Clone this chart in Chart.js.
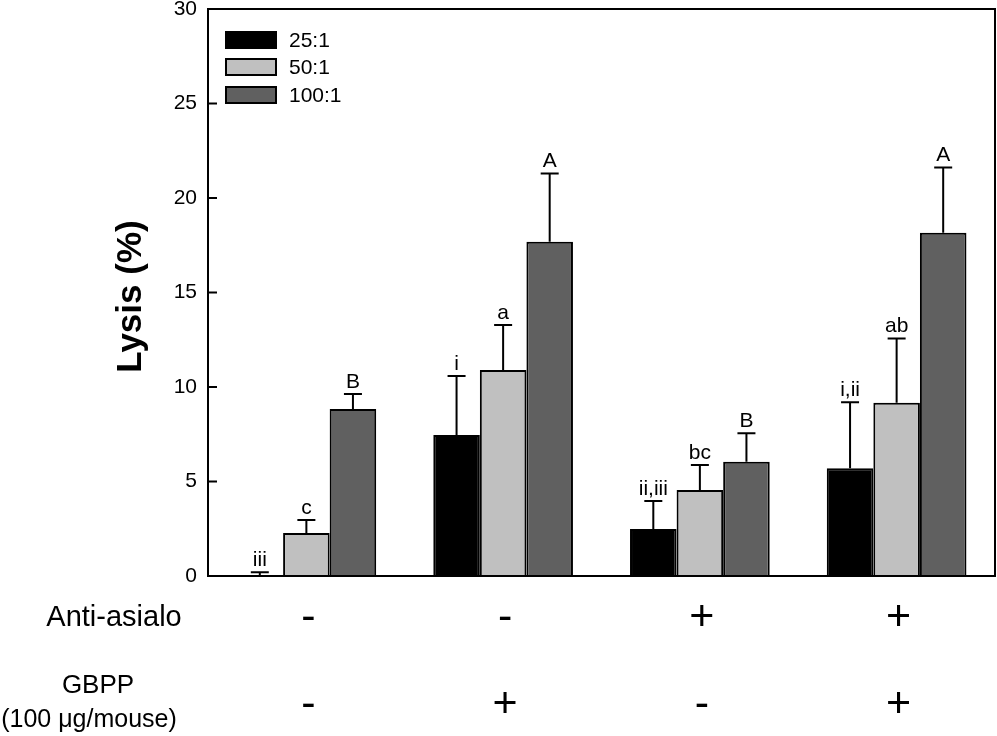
<!DOCTYPE html>
<html>
<head>
<meta charset="utf-8">
<script src="https://cdn.jsdelivr.net/npm/chart.js@4.4.1/dist/chart.umd.min.js"></script>
<style>
  html, body { margin: 0; padding: 0; background: #fff; }
  #wrap { width: 997px; height: 736px; position: relative; }
</style>
</head>
<body>
<div id="wrap"><canvas id="c" width="997" height="736"></canvas></div>
<script>
// ---- data ----
const categories = ['G1', 'G2', 'G3', 'G4'];
const seriesLabels = ['25:1', '50:1', '100:1'];
const lysis25 = [0.0, 7.46, 2.49, 5.70];
const lysis50 = [2.28, 10.90, 4.55, 9.17];
const lysis100 = [8.84, 17.69, 6.05, 18.16];
const err25 = [0.2, 3.12, 1.48, 3.49];
const err50 = [0.68, 2.38, 1.32, 3.40];
const err100 = [0.79, 3.61, 1.50, 3.46];
const letters25 = ['iii', 'i', 'ii,iii', 'i,ii'];
const letters50 = ['c', 'a', 'bc', 'ab'];
const letters100 = ['B', 'A', 'B', 'A'];
const antiAsialo = ['-', '-', '+', '+'];
const gbpp = ['-', '+', '-', '+'];
const yTickValues = [0, 5, 10, 15, 20, 25, 30];
const yAxisTitle = 'Lysis (%)';
const rowLabel1 = 'Anti-asialo';
const rowLabel2a = 'GBPP';
const rowLabel2b = '(100 μg/mouse)';

const FONT = '"Liberation Sans", Arial, Helvetica, sans-serif';
const colors = ['#000000', '#c0c0c0', '#606060'];
const errs = [err25, err50, err100];
const letters = [letters25, letters50, letters100];

const overlay = {
  id: 'overlay',
  afterDatasetsDraw(chart) {
    const ctx = chart.ctx;
    const ca = chart.chartArea;
    const y = chart.scales.y;
    const x = chart.scales.x;
    ctx.save();
    // error bars and letters
    chart.data.datasets.forEach((ds, di) => {
      const meta = chart.getDatasetMeta(di);
      meta.data.forEach((bar, i) => {
        const v = ds.data[i];
        const top = y.getPixelForValue(v + errs[di][i]);
        const base = y.getPixelForValue(v);
        ctx.strokeStyle = '#000';
        ctx.lineWidth = 2;
        ctx.beginPath();
        ctx.moveTo(bar.x, base);
        ctx.lineTo(bar.x, top);
        ctx.moveTo(bar.x - 9, top);
        ctx.lineTo(bar.x + 9, top);
        ctx.stroke();
        ctx.fillStyle = '#000';
        ctx.font = '21px ' + FONT;
        ctx.textAlign = 'center';
        ctx.textBaseline = 'alphabetic';
        ctx.fillText(letters[di][i], bar.x, top - 6);
      });
    });
    // frame
    ctx.strokeStyle = '#000';
    ctx.lineWidth = 2;
    ctx.strokeRect(ca.left, ca.top, ca.right - ca.left, ca.bottom - ca.top);
    // inward ticks
    ctx.beginPath();
    yTickValues.forEach(t => {
      const py = y.getPixelForValue(t);
      ctx.moveTo(ca.left, py);
      ctx.lineTo(ca.left + 9, py);
    });
    ctx.stroke();
    // legend
    ctx.font = '21px ' + FONT;
    ctx.textAlign = 'left';
    ctx.textBaseline = 'middle';
    const legTops = [32, 59, 87];
    seriesLabels.forEach((lab, i) => {
      ctx.fillStyle = colors[i];
      ctx.fillRect(226, legTops[i], 50, 16);
      ctx.lineWidth = 2;
      ctx.strokeStyle = '#000';
      ctx.strokeRect(226, legTops[i], 50, 16);
      ctx.fillStyle = '#000';
      ctx.fillText(lab, 289, legTops[i] + 9);
    });
    // y axis title
    ctx.save();
    ctx.translate(131, (ca.top + ca.bottom) / 2 + 4);
    ctx.rotate(-Math.PI / 2);
    ctx.font = 'bold 35px ' + FONT;
    ctx.textAlign = 'center';
    ctx.textBaseline = 'middle';
    ctx.fillText(yAxisTitle, 0, 0);
    ctx.restore();
    // condition rows
    ctx.fillStyle = '#000';
    ctx.textAlign = 'center';
    ctx.textBaseline = 'alphabetic';
    ctx.font = '29px ' + FONT;
    ctx.fillText(rowLabel1, 114, 626);
    ctx.font = '26px ' + FONT;
    ctx.fillText(rowLabel2a, 98, 693);
    ctx.font = '25px ' + FONT;
    ctx.fillText(rowLabel2b, 89, 727);
    ctx.font = '43px ' + FONT;
    ctx.textBaseline = 'middle';
    categories.forEach((c, i) => {
      const px = x.getPixelForValue(i) + 2;
      ctx.fillText(antiAsialo[i], px, 618);
      ctx.fillText(gbpp[i], px, 705);
    });
    ctx.restore();
  }
};

new Chart(document.getElementById('c'), {
  type: 'bar',
  data: {
    labels: categories,
    datasets: [
      { label: seriesLabels[0], data: lysis25, backgroundColor: colors[0], borderColor: '#000', borderWidth: 2 },
      { label: seriesLabels[1], data: lysis50, backgroundColor: colors[1], borderColor: '#000', borderWidth: 2 },
      { label: seriesLabels[2], data: lysis100, backgroundColor: colors[2], borderColor: '#000', borderWidth: 2 }
    ]
  },
  options: {
    responsive: false,
    animation: false,
    devicePixelRatio: 1,
    layout: { padding: { left: 0, top: 9, right: 2, bottom: 160 } },
    plugins: { legend: { display: false }, tooltip: { enabled: false } },
    datasets: { bar: { categoryPercentage: 0.71, barPercentage: 1.0 } },
    scales: {
      x: {
        display: false,
        grid: { display: false }
      },
      y: {
        min: 0, max: 30,
        afterFit(scale) { scale.width = 208; scale.paddingTop = 0; scale.paddingBottom = 0; },
        afterBuildTicks(scale) { scale.ticks = yTickValues.map(v => ({ value: v })); },
        grid: { display: false, drawTicks: false },
        border: { display: false },
        ticks: {
          padding: 11,
          color: '#000',
          font: { size: 21, family: FONT }
        }
      }
    }
  },
  plugins: [overlay]
});
</script>
</body>
</html>
